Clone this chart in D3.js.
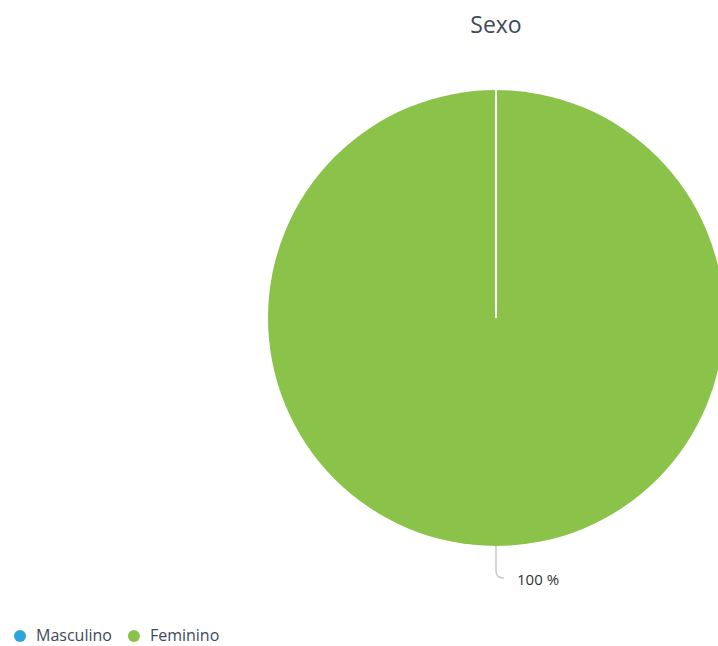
<!DOCTYPE html>
<html>
<head>
<meta charset="utf-8">
<script src="https://cdn.jsdelivr.net/npm/d3@7"></script>
<style>
  body { margin: 0; background: #fff; }
  svg { font-family: "Open Sans", "Noto Sans", sans-serif; }
</style>
</head>
<body>
<svg id="chart" width="718" height="646"></svg>
<script>
var categories = ["Masculino", "Feminino"],
  values = [0, 100],
  colors = ["#2ba4e0", "#8bc34a"],
  title = "Sexo";

var svg = d3.select("#chart"),
  width = +svg.attr("width"),
  height = +svg.attr("height"),
  cx = 496, cy = 318, r = 228;

var color = d3.scaleOrdinal().domain(categories).range(colors);

var data = categories.map(function (c, i) { return { name: c, value: values[i] }; });

var pie = d3.pie().sort(null).value(function (d) { return d.value; });
var arc = d3.arc().innerRadius(0).outerRadius(r);

svg.append("text")
  .attr("x", cx)
  .attr("y", 33)
  .attr("text-anchor", "middle")
  .attr("fill", "#3e4a5a")
  .style("font-size", "23px")
  .text(title);

var g = svg.append("g").attr("transform", "translate(" + cx + "," + cy + ")");

var arcs = pie(data);

g.selectAll("path.slice")
  .data(arcs)
  .enter().append("path")
  .attr("class", "slice")
  .attr("d", arc)
  .attr("fill", function (d) { return color(d.data.name); });

// slice borders (a zero slice shows as a single radial line)
g.selectAll("line.border")
  .data(arcs)
  .enter().append("line")
  .attr("class", "border")
  .attr("x1", 0).attr("y1", 0)
  .attr("x2", function (d) { return Math.sin(d.startAngle) * r; })
  .attr("y2", function (d) { return -Math.cos(d.startAngle) * r; })
  .attr("stroke", "#fff")
  .attr("stroke-width", 2);

// labels for non-zero slices
arcs.filter(function (d) { return d.data.value > 0; }).forEach(function (d) {
  var total = d3.sum(values);
  var pct = Math.round(d.data.value / total * 100);
  var mid = (d.startAngle + d.endAngle) / 2;
  var x0 = Math.sin(mid) * r, y0 = -Math.cos(mid) * r;
  g.append("path")
    .attr("d", "M" + x0 + "," + y0 + " L" + x0 + "," + (y0 + 25) + " Q" + x0 + "," + (y0 + 32) + " " + (x0 + 8) + "," + (y0 + 32))
    .attr("fill", "none")
    .attr("stroke", "#c8c8c8")
    .attr("stroke-width", 1.5);
  g.append("text")
    .attr("x", x0 + 21)
    .attr("y", y0 + 39)
    .attr("fill", "#333")
    .style("font-size", "15px")
    .text(pct + " %");
});

// legend
var legend = svg.append("g").attr("transform", "translate(20,636)");
var lx = 0;
categories.forEach(function (c) {
  var item = legend.append("g").attr("transform", "translate(" + lx + ",0)");
  item.append("circle").attr("r", 6).attr("cy", 0).attr("fill", color(c));
  var t = item.append("text")
    .attr("x", 16)
    .attr("y", 5)
    .attr("fill", "#3e4a5a")
    .style("font-size", "16px")
    .text(c);
  lx += 16 + t.node().getComputedTextLength() + 22;
});
</script>
</body>
</html>
